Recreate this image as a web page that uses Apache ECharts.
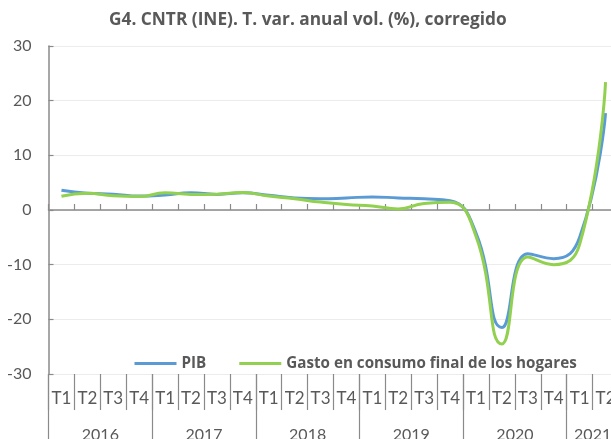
<!DOCTYPE html>
<html><head><meta charset="utf-8">
<script src="https://cdn.jsdelivr.net/npm/echarts@6/dist/echarts.min.js"></script>
<style>html,body{margin:0;padding:0;background:#fff}#c{width:611px;height:439px}</style>
</head><body><div id="c"></div>
<script>
// ---- data ----
const years = ['2016', '2017', '2018', '2019', '2020', '2021'];
const quartersPerYear = [4, 4, 4, 4, 4, 2];
const quarterNames = ['T1', 'T2', 'T3', 'T4'];
const seriesNames = ['PIB', 'Gasto en consumo final de los hogares'];
const pib = [3.6, 3.05, 2.9, 2.55, 2.75, 3.15, 2.85, 3.15, 2.7, 2.2, 2.05, 2.2, 2.4, 2.2, 2.05, 1.7, -4.2, -21.5, -8.0, -8.9, -5.0, 17.7];
const gasto = [2.5, 3.05, 2.6, 2.45, 3.15, 2.85, 2.9, 3.2, 2.55, 2.05, 1.45, 1.0, 0.75, 0.2, 1.2, 1.4, -4.8, -24.5, -8.6, -10.0, -6.3, 23.4];
const yMin = -30, yMax = 30, yStep = 10;
const titleText = 'G4. CNTR (INE). T. var. anual vol. (%), corregido';

// ---- derived categories ----
const quarterCats = [];
const yearCats = [];
const yearStart = [];
const yearLabelIdx = [];
years.forEach((y, k) => {
  yearStart.push(quarterCats.length);
  yearLabelIdx.push(quarterCats.length + Math.floor((quartersPerYear[k] - 1) / 2));
  for (let q = 0; q < quartersPerYear[k]; q++) {
    quarterCats.push(quarterNames[q]);
    yearCats.push(y);
  }
});

const FONT = 'Lato';
const BFONT = 'Open Sans';
const TXT = '#595959';
const AX = '#8a8a8a';

const chart = echarts.init(document.getElementById('c'), null, {renderer: 'canvas'});
chart.setOption({
  animation: false,
  backgroundColor: '#ffffff',
  title: {
    text: titleText,
    left: 109, top: 12, padding: 0,
    textStyle: {fontFamily: BFONT, fontWeight: 'bold', fontSize: 17.3, color: TXT}
  },
  legend: {
    data: seriesNames,
    left: 134.5, top: 356, padding: 0,
    icon: 'rect', itemWidth: 42, itemHeight: 3, itemGap: 33,
    textStyle: {fontFamily: BFONT, fontWeight: 'bold', fontSize: 15.2, color: TXT}
  },
  grid: {left: 48.5, top: 46, bottom: 65, width: 570, containLabel: false, outerBoundsMode: 'none'},
  xAxis: [
    {
      type: 'category', data: quarterCats, position: 'bottom',
      axisLine: {onZero: true, lineStyle: {color: AX, width: 1.5}},
      axisTick: {show: true, inside: true, length: 6, interval: 0, lineStyle: {color: AX, width: 1.2}},
      axisLabel: {show: false}, splitLine: {show: false}
    },
    {
      type: 'category', data: quarterCats, position: 'bottom',
      axisLine: {show: false, onZero: false},
      axisTick: {show: true, length: 36, interval: 0, lineStyle: {color: AX, width: 1.2}},
      axisLabel: {show: true, interval: 0, margin: 16, fontFamily: FONT, fontSize: 17, color: TXT},
      splitLine: {show: false}
    },
    {
      type: 'category', data: yearCats, position: 'bottom',
      axisLine: {show: false, onZero: false},
      axisTick: {show: true, length: 70, interval: (i) => yearStart.indexOf(i) >= 0, lineStyle: {color: AX, width: 1.2}},
      axisLabel: {
        show: true, interval: (i) => yearLabelIdx.indexOf(i) >= 0, margin: 53,
        fontFamily: FONT, fontSize: 16, color: TXT, padding: [0, 0, 0, 26]
      },
      splitLine: {show: false}
    }
  ],
  yAxis: {
    type: 'value', min: yMin, max: yMax, interval: yStep,
    axisLine: {show: true, onZero: false, lineStyle: {color: AX, width: 1.5}},
    axisTick: {show: true, inside: true, length: 5, lineStyle: {color: AX, width: 1.2}},
    axisLabel: {margin: 17, fontFamily: FONT, fontSize: 16, color: TXT},
    splitLine: {show: true, lineStyle: {color: '#d9d9d9', type: 'dotted', width: 1}}
  },
  series: [
    {
      name: seriesNames[0], type: 'line', data: pib, xAxisIndex: 0, smooth: true,
      showSymbol: false, symbol: 'none', color: '#5b9bd5',
      lineStyle: {width: 3, color: '#5b9bd5'}, z: 3
    },
    {
      name: seriesNames[1], type: 'line', data: gasto, xAxisIndex: 0, smooth: true,
      showSymbol: false, symbol: 'none', color: '#92d050',
      lineStyle: {width: 3, color: '#92d050'}, z: 4
    }
  ]
});
</script></body></html>
